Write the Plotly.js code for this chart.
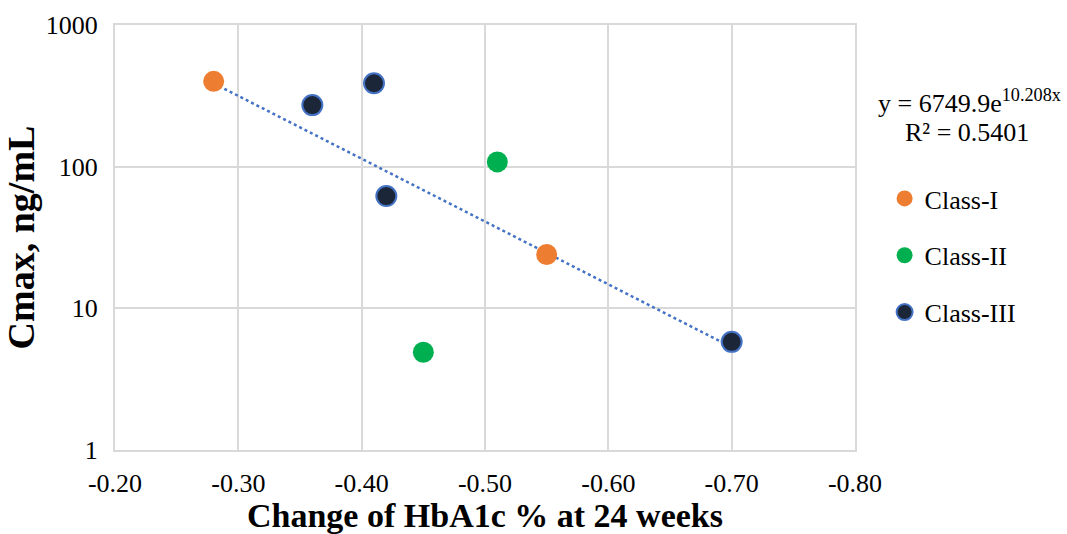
<!DOCTYPE html>
<html>
<head>
<meta charset="utf-8">
<script src="https://cdn.plot.ly/plotly-3.0.1.min.js"></script>
<style>html,body{margin:0;padding:0;background:#fff;}#chart{width:1067px;height:534px;}</style>
</head>
<body>
<div id="chart"></div>
<script>
// Data
var classINames = "Class-I";
var classIX = [-0.28, -0.55];
var classIY = [400, 24];

var classIINames = "Class-II";
var classIIX = [-0.51, -0.45];
var classIIY = [108, 4.9];

var classIIINames = "Class-III";
var classIIIX = [-0.36, -0.41, -0.42, -0.70];
var classIIIY = [272, 388, 62, 5.8];

// Exponential trendline shown on the chart: y = 6749.9 e^(10.208x)
var trendA = 6749.9;
var trendB = 10.208;
var trendXRange = [-0.28, -0.70];
var equationText = "y = 6749.9e<sup>10.208x</sup>";
var r2Text = "R² = 0.5401";

var xTickVals = [-0.2, -0.3, -0.4, -0.5, -0.6, -0.7, -0.8];
var xTickText = ["-0.20", "-0.30", "-0.40", "-0.50", "-0.60", "-0.70", "-0.80"];
var yTickVals = [1, 10, 100, 1000];
var yTickText = ["1", "10", "100", "1000"];

var trendY = trendXRange.map(function (x) { return trendA * Math.exp(trendB * x); });

var serif = "Liberation Serif, Times New Roman, serif";

var traces = [
  {
    x: trendXRange, y: trendY, mode: "lines", type: "scatter",
    line: { color: "#4472C4", width: 2.5, dash: "dot" },
    showlegend: false, hoverinfo: "skip"
  },
  {
    x: classIX, y: classIY, mode: "markers", type: "scatter", name: classINames,
    legendgroup: "g1",
    marker: { color: "#ED7D31", size: 21, line: { width: 0 } }
  },
  {
    x: classIIX, y: classIIY, mode: "markers", type: "scatter", name: classIINames,
    legendgroup: "g2",
    marker: { color: "#00B050", size: 21, line: { width: 0 } }
  },
  {
    x: classIIIX, y: classIIIY, mode: "markers", type: "scatter", name: classIIINames,
    legendgroup: "g3",
    marker: { color: "#1C2639", size: 20, line: { color: "#4472C4", width: 2 } }
  }
];

var layout = {
  width: 1067, height: 534,
  margin: { l: 115, r: 212, t: 25, b: 84 },
  paper_bgcolor: "#ffffff", plot_bgcolor: "#ffffff",
  font: { family: serif, color: "#000000", size: 26 },
  xaxis: {
    range: [-0.2, -0.8],
    tickvals: xTickVals,
    ticktext: xTickText,
    showgrid: true, gridcolor: "#D9D9D9", gridwidth: 2,
    zeroline: false,
    showline: true, linecolor: "#D9D9D9", linewidth: 2, mirror: true,
    ticks: "", ticklen: 0,
    ticklabelstandoff: 9,
    tickfont: { family: serif, size: 26, color: "#000" },
    title: { text: "<b>Change of HbA1c % at 24 weeks</b>", font: { family: serif, size: 34, color: "#000" }, standoff: 9 }
  },
  yaxis: {
    type: "log",
    range: [0, 3],
    tickvals: yTickVals,
    ticktext: yTickText,
    showgrid: true, gridcolor: "#D9D9D9", gridwidth: 2,
    zeroline: false,
    showline: true, linecolor: "#D9D9D9", linewidth: 2, mirror: true,
    ticks: "", ticklen: 0,
    ticklabelstandoff: 10,
    tickfont: { family: serif, size: 26, color: "#000" },
    title: { text: "<b>Cmax, ng/mL</b>", font: { family: serif, size: 38, color: "#000" }, standoff: 6 }
  },
  legend: {
    x: 1.04, xanchor: "left",
    y: 0.647, yanchor: "top",
    font: { family: serif, size: 26, color: "#000" },
    traceorder: "grouped",
    tracegroupgap: 20,
    bgcolor: "rgba(0,0,0,0)",
    borderwidth: 0
  },
  annotations: [
    {
      xref: "paper", yref: "paper", x: 1.155, y: 0.819,
      xanchor: "center", yanchor: "middle", showarrow: false,
      text: equationText, font: { family: serif, size: 26, color: "#000" }
    },
    {
      xref: "paper", yref: "paper", x: 1.151, y: 0.748,
      xanchor: "center", yanchor: "middle", showarrow: false,
      text: r2Text, font: { family: serif, size: 26, color: "#000" }
    }
  ],
  showlegend: true
};

Plotly.newPlot("chart", traces, layout, { displayModeBar: false, staticPlot: true });
</script>
</body>
</html>
